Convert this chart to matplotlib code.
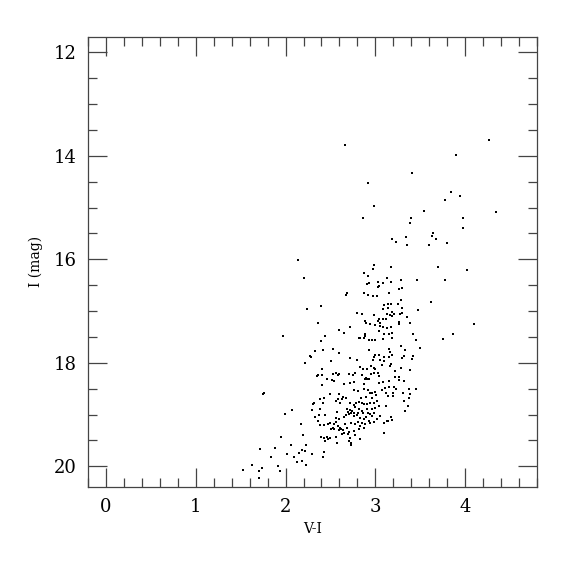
import matplotlib
matplotlib.use("Agg")
import matplotlib.pyplot as plt
from matplotlib.ticker import MultipleLocator
import numpy as np

# colour (V-I) and magnitude (I) of each star
bright_vi = [2.66, 4.27, 3.90, 3.41, 2.92, 3.84, 3.77, 3.94, 2.99, 3.54, 4.34, 2.86, 3.40,
             3.39, 3.97, 3.97, 3.64, 3.63, 3.67, 3.80, 3.19, 3.23, 3.34, 3.35, 3.60, 2.14,
             2.21, 2.99, 2.97, 2.87, 2.92, 3.17, 3.70, 4.02, 3.13, 3.46, 3.28, 3.77,
             2.91, 2.93, 3.03, 3.04, 3.03, 3.08, 3.17, 3.26, 3.30]
bright_i = [13.79, 13.69, 13.99, 14.33, 14.52, 14.70, 14.85, 14.78, 14.96, 15.06, 15.08, 15.21, 15.20,
            15.30, 15.21, 15.40, 15.49, 15.54, 15.60, 15.68, 15.61, 15.67, 15.57, 15.72, 15.73, 16.02,
            16.37, 16.11, 16.18, 16.26, 16.32, 16.14, 16.15, 16.20, 16.37, 16.39, 16.40, 16.40,
            16.47, 16.45, 16.43, 16.52, 16.54, 16.46, 16.43, 16.57, 16.55]

upper_vi = [2.685, 2.678, 2.878, 2.919, 2.974, 3.019, 2.389, 2.796, 2.852, 2.989, 3.037, 3.026,
            3.048, 2.889, 2.900, 2.944, 2.993, 3.048, 3.037, 2.593, 2.656, 2.722, 2.444, 2.400,
            2.882, 2.889, 2.870, 2.833, 2.815, 2.926, 2.963, 3.000, 2.419, 2.530, 2.593, 2.926,
            3.000, 3.044, 2.722, 2.981, 2.241, 2.359, 1.974, 2.333, 2.267, 2.278]
upper_i = [16.644, 16.695, 16.657, 16.695, 16.708, 16.708, 16.902, 17.043, 17.063, 17.075, 17.146, 17.191,
           17.237, 17.191, 17.224, 17.256, 17.275, 17.288, 17.385, 17.372, 17.430, 17.307, 17.481, 17.578,
           17.436, 17.481, 17.514, 17.514, 17.526, 17.565, 17.565, 17.558, 17.752, 17.739, 17.803, 17.752,
           17.848, 17.855, 17.900, 17.881, 16.953, 17.236, 17.487, 17.771, 17.868, 17.880]

red_vi = [3.156, 3.286, 3.622, 3.093, 3.137, 3.178, 3.248, 3.086, 3.137, 3.297, 3.478, 3.185,
          3.204, 3.278, 3.297, 3.130, 3.159, 3.086, 3.122, 3.185, 3.352, 3.259, 3.267, 3.382,
          4.100, 3.086, 3.130, 3.178, 3.415, 3.867, 3.752, 3.456, 3.093, 3.148, 3.185, 3.185,
          3.086, 3.286, 3.493, 3.326, 3.148, 3.167, 3.093, 3.148, 3.185, 3.319, 3.415, 3.411,
          3.293, 3.093, 3.178, 3.167, 3.074, 3.286, 3.385, 3.222, 3.219, 3.259, 3.267, 3.156,
          3.086, 3.315, 3.111, 3.156, 3.204, 3.233, 3.074, 3.378, 3.452, 3.307, 3.382, 3.370,
          3.193, 3.137, 3.196, 3.122]
red_i = [16.650, 16.785, 16.818, 16.888, 16.856, 16.856, 16.869, 16.953, 16.940, 16.940, 16.985, 17.017,
         17.049, 17.049, 17.030, 17.049, 17.082, 17.146, 17.159, 17.095, 17.120, 17.210, 17.243, 17.236,
         17.249, 17.307, 17.320, 17.301, 17.436, 17.449, 17.545, 17.558, 17.449, 17.449, 17.430, 17.513,
         17.545, 17.668, 17.713, 17.758, 17.739, 17.784, 17.880, 17.880, 17.855, 17.861, 17.868, 17.919,
         17.900, 17.964, 18.029, 18.061, 18.048, 18.106, 18.138, 18.164, 18.273, 18.273, 18.338, 18.351,
         18.364, 18.351, 18.480, 18.460, 18.467, 18.512, 18.531, 18.512, 18.499, 18.576, 18.595, 18.673,
         18.641, 18.641, 18.576, 18.576]

blue_vi = [2.211, 2.359, 2.352, 1.752, 1.759, 2.381, 2.315, 2.307, 2.074, 1.993, 2.296, 2.378,
           2.333, 2.370, 2.359, 2.378, 2.167, 2.193, 1.944, 2.056, 2.222, 1.881, 1.711, 2.185,
           2.011, 2.148, 2.211, 2.296]
blue_i = [18.009, 18.235, 18.254, 18.595, 18.583, 18.705, 18.769, 18.802, 18.918, 18.995, 18.911, 18.885,
          19.040, 19.014, 19.124, 19.207, 19.188, 19.394, 19.433, 19.581, 19.587, 19.645, 19.671, 19.684,
          19.755, 19.742, 19.710, 19.768]

clump_vi = [2.507, 2.796, 2.974, 3.048, 2.407, 2.956, 2.981, 3.000, 2.826, 2.863, 2.907,
            2.411, 2.456, 2.530, 2.563, 2.581, 2.593, 2.704, 2.752, 2.770, 2.852, 2.881, 2.896,
            2.907, 2.926, 2.952, 2.981, 3.026, 3.037,
            2.537, 2.519, 2.648, 2.715, 2.767, 2.870, 3.037, 2.404,
            2.493, 2.600, 2.641, 2.678, 2.581, 2.630, 2.759, 2.804, 2.870, 2.919, 2.937, 2.967,
            2.993, 2.426, 2.896, 2.844, 2.963, 3.007,
            2.419, 2.567, 2.611, 2.722, 2.759, 2.789, 2.822, 2.848, 2.870, 2.907, 2.944, 2.989,
            3.019, 2.907, 2.822, 2.770, 2.685, 2.963, 2.993, 3.037, 3.315, 3.363, 3.122,
            2.715, 2.741, 2.730, 2.696, 2.759, 2.807, 2.852, 2.863, 2.919, 2.937, 2.981, 2.963,
            2.900, 2.870, 2.826, 2.796, 2.759, 2.704, 2.678, 2.648, 2.574, 2.556, 2.600, 3.019,
            3.056, 3.130, 3.185, 3.174, 3.333, 2.437,
            2.433, 2.470, 2.500, 2.537, 2.563, 2.581, 2.530, 2.611, 2.619, 2.659, 2.685, 2.730,
            2.770, 2.804, 2.852, 2.881, 2.926, 2.944, 2.981, 2.826, 2.870, 2.544, 2.507, 2.593,
            2.641, 2.704, 2.759, 2.815, 3.093, 3.141, 3.093,
            2.400, 2.426, 2.463, 2.493, 2.474, 2.444, 2.556, 2.630, 2.648, 2.696, 2.722, 2.778,
            2.826, 2.704, 2.733, 2.733, 2.574, 2.426]
clump_i = [17.964, 17.945, 17.951, 17.951, 18.125, 18.061, 18.093, 18.112, 18.074, 18.112, 18.125,
           18.235, 18.318, 18.222, 18.190, 18.241, 18.209, 18.222, 18.241, 18.202, 18.241, 18.306, 18.286,
           18.318, 18.318, 18.222, 18.202, 18.190, 18.254,
           18.351, 18.331, 18.415, 18.383, 18.370, 18.415, 18.383, 18.428,
           18.595, 18.595, 18.653, 18.673, 18.692, 18.705, 18.525, 18.544, 18.512, 18.525, 18.576, 18.589,
           18.563, 18.686, 18.660, 18.673, 18.673, 18.628,
           18.769, 18.737, 18.769, 18.769, 18.821, 18.769, 18.756, 18.782, 18.802, 18.802, 18.769, 18.769,
           18.737, 18.885, 18.885, 18.853, 18.898, 18.898, 18.866, 18.834, 18.737, 18.834, 18.834,
           18.918, 18.930, 18.963, 18.950, 18.976, 18.963, 18.930, 18.963, 18.976, 18.995, 18.976, 19.027,
           19.040, 19.079, 19.059, 19.014, 19.027, 18.982, 19.014, 19.040, 18.950, 19.059, 19.092, 19.092,
           19.027, 19.124, 19.111, 19.040, 18.930, 19.014,
           19.201, 19.188, 19.169, 19.188, 19.143, 19.220, 19.252, 19.252, 19.285, 19.188, 19.252, 19.156,
           19.188, 19.143, 19.156, 19.188, 19.124, 19.156, 19.143, 19.220, 19.252, 19.285, 19.272, 19.304,
           19.304, 19.336, 19.317, 19.285, 19.156, 19.130, 19.349,
           19.433, 19.446, 19.426, 19.446, 19.465, 19.510, 19.426, 19.381, 19.362, 19.381, 19.446, 19.401,
           19.478, 19.510, 19.542, 19.594, 19.555, 19.723]

faint_vi = [2.093, 2.130, 2.185, 2.233, 1.837, 1.919, 1.933, 1.733, 1.707, 1.630, 1.522, 1.700, 2.422]
faint_i = [19.826, 19.916, 19.890, 19.968, 19.820, 19.987, 20.090, 20.039, 20.084, 19.968, 20.071, 20.232, 19.820]

vi = np.concatenate([bright_vi, upper_vi, red_vi, blue_vi, clump_vi, faint_vi])
imag = np.concatenate([bright_i, upper_i, red_i, blue_i, clump_i, faint_i])

plt.rcParams['font.family'] = ['DejaVu Serif']

fig = plt.figure(figsize=(5.75, 5.75), dpi=100)
ax = fig.add_axes([0.153, 0.153, 0.781, 0.783])

ax.scatter(vi, imag, s=2.5, c='black', marker='s', linewidths=0)

ax.set_xlim(-0.2, 4.8)
ax.set_ylim(20.4, 11.7)

ax.xaxis.set_major_locator(MultipleLocator(1))
ax.xaxis.set_minor_locator(MultipleLocator(0.2))
ax.yaxis.set_major_locator(MultipleLocator(2))
ax.yaxis.set_minor_locator(MultipleLocator(0.5))

ax.tick_params(which='both', direction='in', top=True, right=True, color='#444444', width=0.9)
ax.tick_params(which='major', length=13.5, pad=8, labelsize=13)
ax.tick_params(which='minor', length=6.7)
for sp in ax.spines.values():
    sp.set_color('#444444')
    sp.set_linewidth(0.9)

ax.set_xlabel('V-I', fontsize=10, labelpad=4)
ax.set_ylabel('I (mag)', fontsize=10, labelpad=8)

fig.savefig('out.png', dpi=100)
